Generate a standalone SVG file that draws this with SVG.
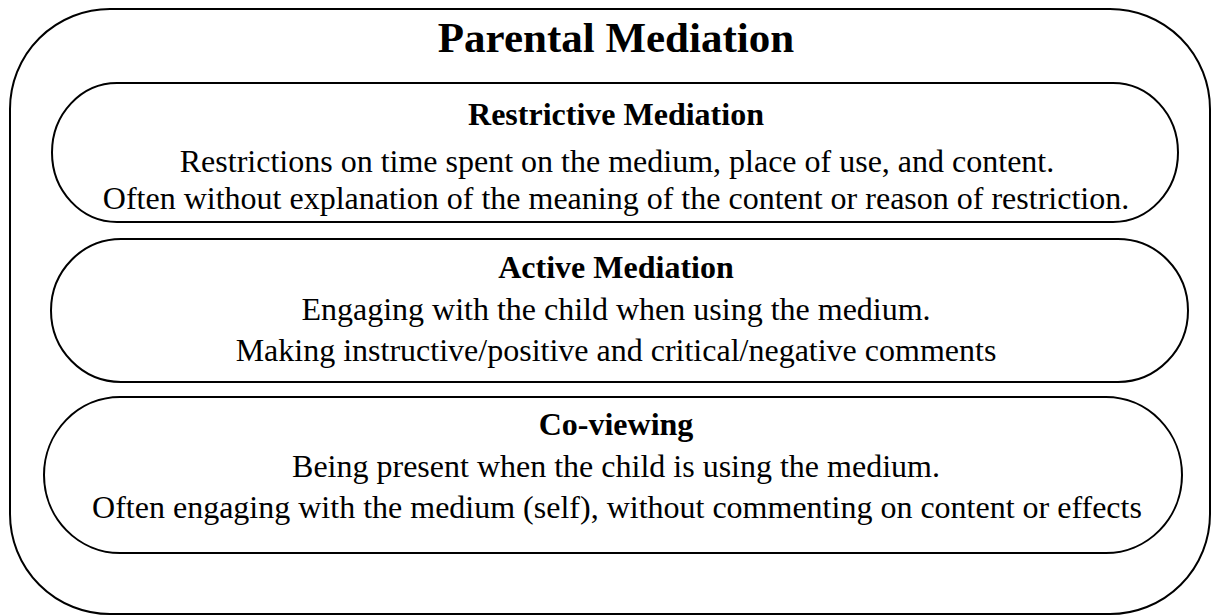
<svg xmlns="http://www.w3.org/2000/svg" width="1212" height="615" viewBox="0 0 1212 615">
<style>
.box{fill:#fff;stroke:#000;stroke-width:2}
.t{font-family:"Liberation Serif","Times New Roman",serif;text-anchor:middle;fill:#000}
.h1{font-size:43px;font-weight:bold}
.h2{font-size:32px;font-weight:bold}
.b{font-size:32px}
</style>
<rect width="1212" height="615" fill="#fff"/>
<g id="parental-mediation">
<rect class="box" x="10" y="9" width="1200" height="605" rx="100" ry="100"/>
<text class="t h1" x="616" y="52">Parental Mediation</text>
</g>
<g id="restrictive-mediation">
<rect class="box" x="52" y="83" width="1126" height="139" rx="65" ry="69.5"/>
<text class="t h2" x="616" y="125">Restrictive Mediation</text>
<text class="t b" x="617" y="172">Restrictions on time spent on the medium, place of use, and content.</text>
<text class="t b" x="616" y="209">Often without explanation of the meaning of the content or reason of restriction.</text>
</g>
<g id="active-mediation">
<rect class="box" x="51" y="239" width="1137" height="143" rx="70" ry="71.5"/>
<text class="t h2" x="616" y="278">Active Mediation</text>
<text class="t b" x="616" y="320">Engaging with the child when using the medium.</text>
<text class="t b" x="616" y="361">Making instructive/positive and critical/negative comments</text>
</g>
<g id="co-viewing">
<rect class="box" x="44" y="397" width="1138" height="156" rx="76" ry="78"/>
<text class="t h2" x="616" y="435">Co-viewing</text>
<text class="t b" x="616" y="477">Being present when the child is using the medium.</text>
<text class="t b" x="617" y="518">Often engaging with the medium (self), without commenting on content or effects</text>
</g>
<g id="connectors"/>
</svg>
